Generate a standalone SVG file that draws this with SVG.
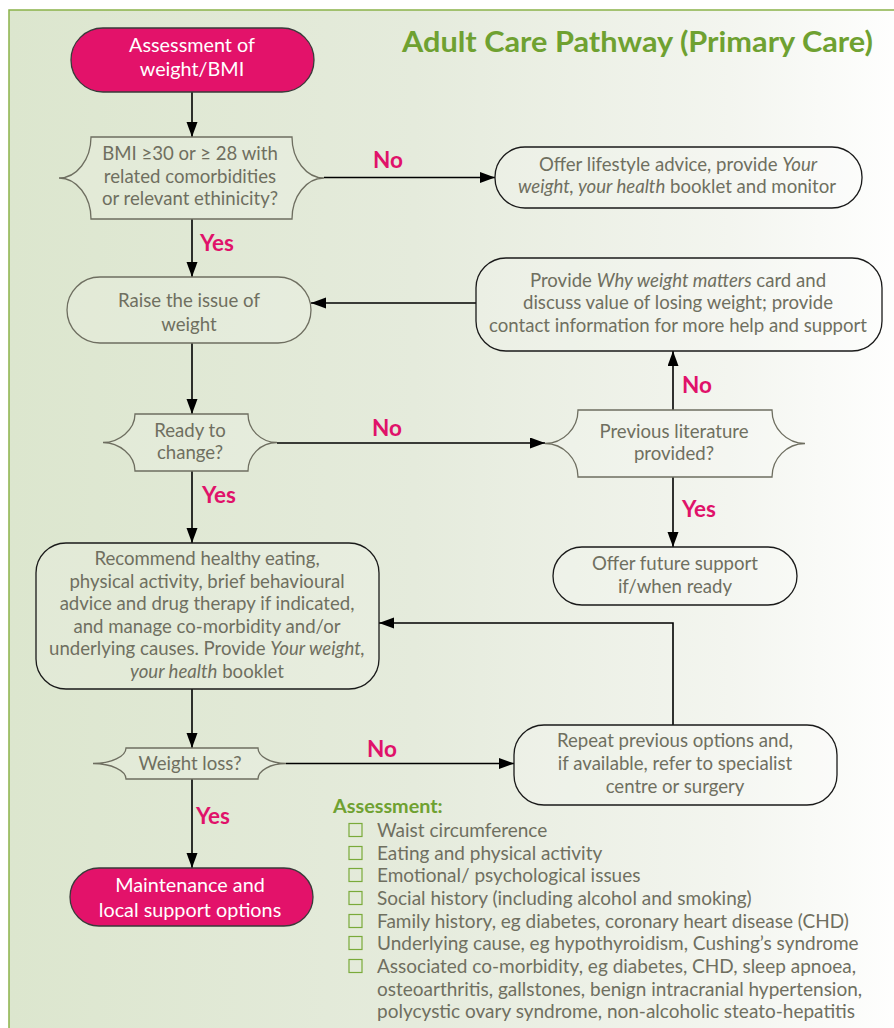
<svg xmlns="http://www.w3.org/2000/svg" width="894" height="1028" viewBox="0 0 894 1028">
<defs>
<linearGradient id="bg" x1="0" y1="0" x2="1" y2="0">
<stop offset="0" stop-color="#dce6ce"/>
<stop offset="0.45" stop-color="#e5ebdc"/>
<stop offset="0.8" stop-color="#f3f5ef"/>
<stop offset="1" stop-color="#ffffff"/>
</linearGradient>
<marker id="ah" markerUnits="userSpaceOnUse" markerWidth="16" markerHeight="12" refX="15" refY="5.5" orient="auto">
<path d="M0,0 L15,5.5 L0,11 Z" fill="#000"/>
</marker>
<style>
text{font-family:"Lato","Liberation Sans",sans-serif}
.t{font-size:18.6px;fill:#6f6f60;text-anchor:middle}
.w{font-size:19.8px;fill:#ffffff;text-anchor:middle}
.i{font-style:italic}
.lbl{font-size:22.5px;font-weight:bold;fill:#e0126a}
.gn{fill:#ffffff;fill-opacity:0.15;stroke:#6e6e60;stroke-width:1.3}
.bk{fill:#ffffff;fill-opacity:0.15;stroke:#1a1a1a;stroke-width:1.3}
.pk{fill:#e3126a;stroke:#3a3a3a;stroke-width:1.3}
.c{fill:none;stroke:#000;stroke-width:1.6}
.li{font-size:19px;fill:#6f6f60}
.cb{fill:none;stroke:#7aaa3a;stroke-width:1.2}
</style>
</defs>
<rect x="9" y="10" width="900" height="1040" fill="url(#bg)" stroke="#8bb24a" stroke-width="1.5"/>
<text x="873" y="52" text-anchor="end" font-size="29" font-weight="bold" fill="#6fa131" textLength="471" lengthAdjust="spacingAndGlyphs">Adult Care Pathway (Primary Care)</text>

<g id="connectors">
<path class="c" d="M192,92 V137" marker-end="url(#ah)"/>
<path class="c" d="M324,177.5 H495" marker-end="url(#ah)"/>
<path class="c" d="M192,219 V277" marker-end="url(#ah)"/>
<path class="c" d="M476,303 H311" marker-end="url(#ah)"/>
<path class="c" d="M192,343 V414" marker-end="url(#ah)"/>
<path class="c" d="M277,443 H545" marker-end="url(#ah)"/>
<path class="c" d="M673,410 V351" marker-end="url(#ah)"/>
<path class="c" d="M673,477 V547" marker-end="url(#ah)"/>
<path class="c" d="M192,471 V543" marker-end="url(#ah)"/>
<path class="c" d="M192,689 V748" marker-end="url(#ah)"/>
<path class="c" d="M286,763.5 H514" stroke-width="2.2" marker-end="url(#ah)"/>
<path class="c" d="M673,725 V623 H379" marker-end="url(#ah)"/>
<path class="c" d="M192,779 V868" marker-end="url(#ah)"/>
<text class="lbl" x="373" y="168">No</text>
<text class="lbl" x="200" y="251">Yes</text>
<text class="lbl" x="372" y="436">No</text>
<text class="lbl" x="202" y="503">Yes</text>
<text class="lbl" x="682" y="393">No</text>
<text class="lbl" x="682" y="517">Yes</text>
<text class="lbl" x="367" y="757">No</text>
<text class="lbl" x="196" y="824">Yes</text>
</g>

<g id="start">
<rect class="pk" x="71" y="28" width="243" height="64" rx="32"/>
<text class="w" x="192" y="52">Assessment of</text>
<text class="w" x="192" y="76">weight/BMI</text>
</g>

<g id="bmi">
<path class="gn" d="M91,137 H292 C292,159.6 306.4,178 324,178 C306.4,178 292,196.4 292,219 H91 C91,196.4 76.6,178 59,178 C76.6,178 91,159.6 91,137 Z"/>
<text class="t" x="190" y="160">BMI ≥30 or ≥ 28 with</text>
<text class="t" x="190" y="183">related comorbidities</text>
<text class="t" x="190" y="205">or relevant ethinicity?</text>
</g>

<g id="lifestyle">
<rect class="bk" x="495" y="147" width="367" height="61" rx="30"/>
<text class="t" x="678" y="171">Offer lifestyle advice, provide <tspan class="i">Your</tspan></text>
<text class="t" x="677" y="193"><tspan class="i">weight, your health</tspan> booklet and monitor</text>
</g>

<g id="raise">
<rect class="gn" x="67" y="277" width="244" height="66" rx="33"/>
<text class="t" x="189" y="307">Raise the issue of</text>
<text class="t" x="189" y="331">weight</text>
</g>

<g id="why">
<rect class="bk" x="476" y="258" width="406" height="93" rx="30"/>
<text class="t" x="678" y="287">Provide <tspan class="i">Why weight matters</tspan> card and</text>
<text class="t" x="678" y="309">discuss value of losing weight; provide</text>
<text class="t" x="678" y="332">contact information for more help and support</text>
</g>

<g id="ready">
<path class="gn" d="M135,414 H248 C248,429.7 261,442.5 277,442.5 C261,442.5 248,455.3 248,471 H135 C135,455.3 119,442.5 103,442.5 C119,442.5 135,429.7 135,414 Z"/>
<text class="t" x="190" y="437">Ready to</text>
<text class="t" x="190" y="459">change?</text>
</g>

<g id="previous">
<path class="gn" d="M578,410 H772 C772,428.4 786.8,443.5 805,443.5 C786.8,443.5 772,458.6 772,477 H578 C578,458.6 563.2,443.5 545,443.5 C563.2,443.5 578,428.4 578,410 Z"/>
<text class="t" x="674" y="438">Previous literature</text>
<text class="t" x="674" y="460">provided?</text>
</g>

<g id="future">
<rect class="bk" x="553" y="547" width="244" height="58" rx="29"/>
<text class="t" x="675" y="570">Offer future support</text>
<text class="t" x="675" y="593">if/when ready</text>
</g>

<g id="recommend">
<rect class="bk" x="36" y="543" width="343" height="146" rx="30"/>
<text class="t" x="207" y="565">Recommend healthy eating,</text>
<text class="t" x="207" y="588">physical activity, brief behavioural</text>
<text class="t" x="207" y="610">advice and drug therapy if indicated,</text>
<text class="t" x="207" y="633">and manage co-morbidity and/or</text>
<text class="t" x="207" y="655">underlying causes. Provide <tspan class="i">Your weight,</tspan></text>
<text class="t" x="207" y="678"><tspan class="i">your health</tspan> booklet</text>
</g>

<g id="weightloss">
<path class="gn" d="M126,748 H258 C258,756.5 270.6,763.5 286,763.5 C270.6,763.5 258,770.5 258,779 H126 C126,770.5 111.2,763.5 93,763.5 C111.2,763.5 126,756.5 126,748 Z"/>
<text class="t" x="190" y="770">Weight loss?</text>
</g>

<g id="repeat">
<rect class="bk" x="514" y="725" width="323" height="80" rx="30"/>
<text class="t" x="675" y="747">Repeat previous options and,</text>
<text class="t" x="675" y="770">if available, refer to specialist</text>
<text class="t" x="675" y="793">centre or surgery</text>
</g>

<g id="maintenance">
<rect class="pk" x="70" y="868" width="243" height="58" rx="29"/>
<text class="w" x="190" y="892">Maintenance and</text>
<text class="w" x="190" y="917">local support options</text>
</g>

<g id="assessment">
<text x="333" y="813" font-size="19.8" font-weight="bold" fill="#6fa131">Assessment:</text>
<rect class="cb" x="349" y="823.5" width="13" height="13"/>
<rect class="cb" x="349" y="846.5" width="13" height="13"/>
<rect class="cb" x="349" y="868.5" width="13" height="13"/>
<rect class="cb" x="349" y="891.5" width="13" height="13"/>
<rect class="cb" x="349" y="914.5" width="13" height="13"/>
<rect class="cb" x="349" y="936.5" width="13" height="13"/>
<rect class="cb" x="349" y="959.5" width="13" height="13"/>
<text class="li" x="377" y="837">Waist circumference</text>
<text class="li" x="377" y="860">Eating and physical activity</text>
<text class="li" x="377" y="882">Emotional/ psychological issues</text>
<text class="li" x="377" y="905">Social history (including alcohol and smoking)</text>
<text class="li" x="377" y="928">Family history, eg diabetes, coronary heart disease (CHD)</text>
<text class="li" x="377" y="950">Underlying cause, eg hypothyroidism, Cushing’s syndrome</text>
<text class="li" x="377" y="973">Associated co-morbidity, eg diabetes, CHD, sleep apnoea,</text>
<text class="li" x="377" y="996">osteoarthritis, gallstones, benign intracranial hypertension,</text>
<text class="li" x="377" y="1018">polycystic ovary syndrome, non-alcoholic steato-hepatitis</text>
</g>
</svg>
